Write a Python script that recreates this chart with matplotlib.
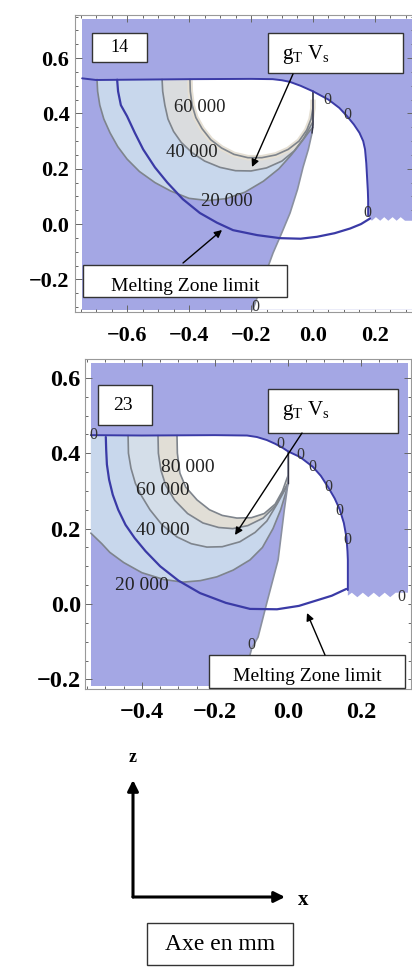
import matplotlib
matplotlib.use("Agg")
import matplotlib.pyplot as plt
from matplotlib.patches import Rectangle, FancyArrowPatch
from matplotlib.ticker import FixedLocator, FixedFormatter, MultipleLocator

plt.rcParams['font.family'] = ['Liberation Serif', 'DejaVu Serif']
plt.rcParams['mathtext.fontset'] = 'stix'

# ---------------- data: panel "14" ----------------
p14_xticks = [-0.6, -0.4, -0.2, 0.0, 0.2]
p14_xticklabels = ['\u22120.6', '\u22120.4', '\u22120.2', '0.0', '0.2']
p14_yticks = [-0.2, 0.0, 0.2, 0.4, 0.6]
p14_yticklabels = ['\u22120.2', '0.0', '0.2', '0.4', '0.6']
dom14_x = [-0.745, 0.32]
dom14_y = [-0.31, 0.741]

surf14_x = [-0.745, -0.70, -0.60, -0.40, -0.20, -0.13, -0.10, -0.074, -0.04, 0.0, 0.05, 0.085, 0.11,
            0.132, 0.15, 0.162, 0.168, 0.172, 0.174, 0.177, 0.178, 0.178]
surf14_y = [0.527, 0.521, 0.522, 0.524, 0.525, 0.524, 0.52, 0.514, 0.50, 0.48, 0.45, 0.42, 0.39,
            0.36, 0.33, 0.30, 0.27, 0.22, 0.18, 0.12, 0.087, 0.03]
zig14_x = [0.178, 0.19, 0.203, 0.217, 0.23, 0.243, 0.257, 0.27, 0.283, 0.297, 0.32]
zig14_y = [0.03, 0.012, 0.025, 0.012, 0.025, 0.012, 0.025, 0.012, 0.025, 0.012, 0.012]
melt14_x = [-0.632, -0.629, -0.62, -0.60, -0.575, -0.548, -0.51, -0.47, -0.42, -0.365, -0.31, -0.258,
            -0.18, -0.106, -0.04, 0.013, 0.07, 0.12, 0.155, 0.184]
melt14_y = [0.522, 0.48, 0.43, 0.39, 0.33, 0.27, 0.205, 0.15, 0.09, 0.04, 0.005, -0.022,
            -0.04, -0.051, -0.053, -0.046, -0.033, -0.016, 0.0, 0.02]
zero14_x = [-0.194, -0.16, -0.129, -0.10, -0.074, -0.05, -0.032, -0.015, -0.003, 0.0, 0.0]
zero14_y = [-0.31, -0.20, -0.105, -0.03, 0.04, 0.125, 0.206, 0.27, 0.33, 0.36, 0.48]
c14_20k_x = [-0.697, -0.695, -0.688, -0.675, -0.655, -0.63, -0.60, -0.56, -0.51, -0.46, -0.40, -0.34,
             -0.28, -0.22, -0.16, -0.11, -0.07, -0.035, -0.012, 0.0]
c14_20k_y = [0.523, 0.48, 0.43, 0.38, 0.33, 0.28, 0.235, 0.19, 0.15, 0.12, 0.093, 0.085,
             0.092, 0.115, 0.155, 0.20, 0.25, 0.30, 0.335, 0.35]
c14_40k_x = [-0.487, -0.485, -0.478, -0.468, -0.45, -0.425, -0.39, -0.35, -0.30, -0.25, -0.20, -0.15,
             -0.10, -0.06, -0.03, -0.01, 0.0]
c14_40k_y = [0.523, 0.48, 0.43, 0.38, 0.335, 0.295, 0.258, 0.228, 0.205, 0.193, 0.192, 0.203,
             0.228, 0.265, 0.31, 0.35, 0.37]
c14_60k_x = [-0.397, -0.396, -0.39, -0.378, -0.358, -0.33, -0.295, -0.255, -0.21, -0.165, -0.12, -0.08,
             -0.045, -0.02, -0.006, 0.0, 0.0]
c14_60k_y = [0.523, 0.48, 0.43, 0.385, 0.345, 0.305, 0.275, 0.252, 0.24, 0.24, 0.25, 0.27,
             0.30, 0.34, 0.38, 0.42, 0.45]
lab14_text = ['60 000', '40 000', '20 000']
lab14_x = [-0.365, -0.39, -0.277]
lab14_y = [0.423, 0.257, 0.08]
zlab14_x = [0.048, 0.11, 0.177, -0.187]
zlab14_y = [0.448, 0.394, 0.04, -0.300]

# ---------------- data: panel "23" ----------------
p23_xticks = [-0.4, -0.2, 0.0, 0.2]
p23_xticklabels = ['\u22120.4', '\u22120.2', '0.0', '0.2']
p23_yticks = [-0.2, 0.0, 0.2, 0.4, 0.6]
p23_yticklabels = ['\u22120.2', '0.0', '0.2', '0.4', '0.6']
dom23_x = [-0.54, 0.33]
dom23_y = [-0.218, 0.64]

surf23_x = [-0.54, -0.40, -0.20, -0.112, -0.085, -0.058, -0.035, -0.014, 0.0, 0.033, 0.068, 0.09, 0.11,
            0.128, 0.142, 0.153, 0.16, 0.163, 0.164, 0.164]
surf23_y = [0.448, 0.447, 0.448, 0.447, 0.443, 0.435, 0.425, 0.414, 0.405, 0.39, 0.364, 0.34, 0.31,
            0.28, 0.25, 0.215, 0.178, 0.14, 0.117, 0.037]
zig23_x = [0.164, 0.175, 0.19, 0.205, 0.22, 0.235, 0.25, 0.265, 0.28, 0.295, 0.33]
zig23_y = [0.022, 0.03, 0.018, 0.03, 0.018, 0.03, 0.018, 0.03, 0.018, 0.03, 0.03]
melt23_x = [-0.499, -0.498, -0.496, -0.49, -0.48, -0.465, -0.445, -0.42, -0.39, -0.35, -0.30, -0.241,
            -0.17, -0.104, -0.03, 0.03, 0.08, 0.12, 0.16]
melt23_y = [0.443, 0.41, 0.37, 0.33, 0.29, 0.25, 0.21, 0.175, 0.14, 0.10, 0.062, 0.029,
            0.003, -0.013, -0.014, -0.005, 0.01, 0.022, 0.04]
zero23_x = [-0.128, -0.099, -0.082, -0.058, -0.027, -0.01, 0.0, 0.0]
zero23_y = [-0.218, -0.117, -0.088, 0.003, 0.117, 0.25, 0.32, 0.405]
c23_20k_x = [-0.54, -0.51, -0.488, -0.45, -0.40, -0.34, -0.288, -0.24, -0.195, -0.15, -0.104, -0.07,
             -0.041, -0.02, -0.006, 0.0]
c23_20k_y = [0.188, 0.16, 0.137, 0.11, 0.083, 0.065, 0.058, 0.062, 0.072, 0.09, 0.117, 0.15,
             0.20, 0.25, 0.295, 0.32]
c23_40k_x = [-0.438, -0.437, -0.43, -0.418, -0.40, -0.378, -0.345, -0.304, -0.265, -0.222, -0.18,
             -0.132, -0.09, -0.058, -0.03, -0.01, 0.0]
c23_40k_y = [0.447, 0.40, 0.36, 0.32, 0.285, 0.25, 0.21, 0.178, 0.16, 0.151, 0.152,
             0.165, 0.19, 0.22, 0.265, 0.30, 0.32]
c23_60k_x = [-0.356, -0.355, -0.348, -0.335, -0.31, -0.275, -0.233, -0.19, -0.151, -0.11, -0.068,
             -0.035, -0.012, 0.0]
c23_60k_y = [0.447, 0.40, 0.355, 0.315, 0.275, 0.24, 0.215, 0.203, 0.20, 0.208, 0.228,
             0.26, 0.30, 0.32]
c23_80k_x = [-0.304, -0.303, -0.296, -0.28, -0.249, -0.215, -0.18, -0.14, -0.10, -0.065, -0.035,
             -0.015, -0.004, 0.0]
c23_80k_y = [0.447, 0.40, 0.347, 0.31, 0.276, 0.25, 0.235, 0.228, 0.229, 0.24, 0.265,
             0.30, 0.33, 0.34]
lab23_text = ['80 000', '60 000', '40 000', '20 000']
lab23_x = [-0.274, -0.342, -0.342, -0.40]
lab23_y = [0.363, 0.302, 0.196, 0.05]
zlab23_x = [-0.022, 0.033, 0.068, 0.11, 0.14, 0.162, 0.312, -0.534, -0.099]
zlab23_y = [0.424, 0.395, 0.363, 0.31, 0.247, 0.17, 0.019, 0.448, -0.109]

# ---------------- styles ----------------
PERI = '#A4A7E4'
BAND1 = '#C8D7EC'
BAND2_14 = '#DADCDE'
BAND2_23 = '#D4DEE9'
BAND3_23 = '#E1DED6'
GREY = '#7E848C'
MELT = '#3A3AA6'

W, H = 412, 968
fig = plt.figure(figsize=(W / 100, H / 100), dpi=100)


def fx(px):
    return px / W


def fy(py):
    return 1 - py / H


def region(cx, cy, sx, sy, x_end=0.0):
    px, py = list(cx), list(cy)
    sel = [(x, y) for x, y in zip(sx, sy) if cx[0] - 1e-9 <= x <= x_end + 1e-9]
    for x, y in reversed(sel):
        px.append(x)
        py.append(y)
    return px, py


def white_region(zx, zy, sx, sy, gx, gy, dx, dy):
    px, py = list(zx), list(zy)
    for x, y in zip(sx, sy):
        if x > 1e-9:
            px.append(x)
            py.append(y)
    px += list(gx) + [dx[1], dx[1]]
    py += list(gy) + [gy[-1], dy[0]]
    return px, py


def style_axes(ax, xt, xtl, yt, ytl, fs, xpad, ypad):
    ax.set_facecolor('white')
    ax.xaxis.set_major_locator(FixedLocator(xt))
    ax.xaxis.set_major_formatter(FixedFormatter(xtl))
    ax.yaxis.set_major_locator(FixedLocator(yt))
    ax.yaxis.set_major_formatter(FixedFormatter(ytl))
    ax.xaxis.set_minor_locator(MultipleLocator(0.05))
    ax.yaxis.set_minor_locator(MultipleLocator(0.05))
    ax.tick_params(which='both', direction='in', top=True, right=True, color='#666666', width=0.7)
    ax.tick_params(which='major', length=5)
    ax.tick_params(which='minor', length=2.5)
    ax.tick_params(axis='x', pad=xpad, labelsize=fs)
    ax.tick_params(axis='y', pad=ypad, labelsize=fs)
    for lbl in ax.get_xticklabels() + ax.get_yticklabels():
        lbl.set_fontweight('bold')
    for sp in ax.spines.values():
        sp.set_color('#999999')
        sp.set_linewidth(0.8)


LW = dict(solid_joinstyle='round', solid_capstyle='round')

# ---------------- panel 14 ----------------
ax1 = fig.add_axes([fx(75), fy(312), (414 - 75) / W, (312 - 15) / H])
ax1.set_xlim(-0.768, 0.326)
ax1.set_ylim(-0.318, 0.756)
ax1.fill_between(dom14_x, dom14_y[0], dom14_y[1], color=PERI, lw=0, zorder=1)
for (cx, cy), col in [((c14_20k_x, c14_20k_y), BAND1),
                      ((c14_40k_x, c14_40k_y), BAND2_14),
                      ((c14_60k_x, c14_60k_y), 'white')]:
    rx, ry = region(cx, cy, surf14_x, surf14_y)
    ax1.fill(rx, ry, color=col, lw=0, zorder=2)
wx, wy = white_region(zero14_x, zero14_y, surf14_x, surf14_y, zig14_x, zig14_y, dom14_x, dom14_y)
ax1.fill(wx, wy, color='white', lw=0, zorder=2)
ax1.plot(c14_60k_x, c14_60k_y, color='#E6E0D4', lw=4, zorder=3, solid_capstyle='butt')
for cx, cy in [(c14_20k_x, c14_20k_y), (c14_40k_x, c14_40k_y), (c14_60k_x, c14_60k_y)]:
    ax1.plot(cx, cy, color=GREY, lw=1.2, zorder=4, **LW)
ax1.plot(zero14_x, zero14_y, color='#8A90A0', lw=1.2, zorder=4, **LW)
ax1.plot(zero14_x[-3:], zero14_y[-3:], color='#333344', lw=1.0, zorder=4)
ax1.plot(surf14_x, surf14_y, color=MELT, lw=1.4, zorder=5, **LW)
ax1.plot(melt14_x, melt14_y, color=MELT, lw=1.6, zorder=5, **LW)
for t, x, y in zip(lab14_text, lab14_x, lab14_y):
    ax1.text(x, y, t, fontsize=13.5, ha='center', va='center', color='#222222', zorder=6)
for x, y in zip(zlab14_x, zlab14_y):
    ax1.text(x, y, '0', fontsize=11.5, ha='center', va='center', color='#333333', zorder=6)
style_axes(ax1, p14_xticks, p14_xticklabels, p14_yticks, p14_yticklabels, 16, 10, 4)

# ---------------- panel 23 ----------------
ax2 = fig.add_axes([fx(85), fy(689), (411 - 85) / W, (689 - 359) / H])
ax2.set_xlim(-0.556, 0.337)
ax2.set_ylim(-0.2255, 0.65)
ax2.fill_between(dom23_x, dom23_y[0], dom23_y[1], color=PERI, lw=0, zorder=1)
for (cx, cy), col in [((c23_20k_x, c23_20k_y), BAND1),
                      ((c23_40k_x, c23_40k_y), BAND2_23),
                      ((c23_60k_x, c23_60k_y), BAND3_23),
                      ((c23_80k_x, c23_80k_y), 'white')]:
    rx, ry = region(cx, cy, surf23_x, surf23_y)
    ax2.fill(rx, ry, color=col, lw=0, zorder=2)
wx, wy = white_region(zero23_x, zero23_y, surf23_x, surf23_y, zig23_x, zig23_y, dom23_x, dom23_y)
ax2.fill(wx, wy, color='white', lw=0, zorder=2)
for cx, cy in [(c23_20k_x, c23_20k_y), (c23_40k_x, c23_40k_y), (c23_60k_x, c23_60k_y), (c23_80k_x, c23_80k_y)]:
    ax2.plot(cx, cy, color=GREY, lw=1.2, zorder=4, **LW)
ax2.plot(zero23_x, zero23_y, color='#8A90A0', lw=1.2, zorder=4, **LW)
ax2.plot(zero23_x[-2:], zero23_y[-2:], color='#333344', lw=1.0, zorder=4)
ax2.plot(surf23_x, surf23_y, color=MELT, lw=1.4, zorder=5, **LW)
ax2.plot(melt23_x, melt23_y, color=MELT, lw=1.6, zorder=5, **LW)
for t, x, y in zip(lab23_text, lab23_x, lab23_y):
    ax2.text(x, y, t, fontsize=14, ha='center', va='center', color='#222222', zorder=6)
for x, y in zip(zlab23_x, zlab23_y):
    ax2.text(x, y, '0', fontsize=11.5, ha='center', va='center', color='#333333', zorder=6)
style_axes(ax2, p23_xticks, p23_xticklabels, p23_yticks, p23_yticklabels, 17.5, 9, 3)


# ---------------- annotation boxes and arrows ----------------
def box(x0, y0, x1, y1, lw=1.0):
    fig.add_artist(Rectangle((fx(x0), fy(y1)), (x1 - x0) / W, (y1 - y0) / H,
                             transform=fig.transFigure, facecolor='white',
                             edgecolor='#333333', lw=lw, zorder=5))


def arrow(x0, y0, x1, y1, lw=1.0, ms=11):
    fig.add_artist(FancyArrowPatch((fx(x0), fy(y0)), (fx(x1), fy(y1)),
                                   transform=fig.transFigure, arrowstyle='-|>',
                                   mutation_scale=ms, lw=lw, color='black',
                                   shrinkA=0, shrinkB=0, zorder=6))


GTVS = r'$\mathregular{g_T\ V_s}$'

box(92, 33, 147, 62)
fig.text(fx(119.5), fy(48), '14', fontsize=13, ha='center', va='center', zorder=7)
box(268, 33, 403, 73)
fig.text(fx(282), fy(55), GTVS, fontsize=15, ha='left', va='center', zorder=7)
arrow(293, 74, 252, 167)
box(83, 265, 287, 297)
fig.text(fx(185), fy(291), 'Melting Zone limit', fontsize=14, ha='center', va='baseline', zorder=7)
arrow(183, 263, 222, 230)

box(98, 385, 152, 425)
fig.text(fx(123), fy(405), '23', fontsize=14, ha='center', va='center', zorder=7)
box(268, 389, 398, 433)
fig.text(fx(282), fy(411), GTVS, fontsize=15, ha='left', va='center', zorder=7)
arrow(302, 433, 235, 535)
box(209, 655, 405, 688)
fig.text(fx(307), fy(681), 'Melting Zone limit', fontsize=14, ha='center', va='baseline', zorder=7)
arrow(325, 655, 307, 613)

# ---------------- axis legend (x, z) ----------------
arrow(133, 897, 133, 780, lw=2.2, ms=16)
arrow(133, 897, 285, 897, lw=2.2, ms=16)
fig.text(fx(133), fy(758), 'z', fontsize=13, fontweight='bold', ha='center', va='center')
fig.text(fx(303), fy(900), 'x', fontsize=15, fontweight='bold', ha='center', va='center')
box(147, 923, 293, 965)
fig.text(fx(220), fy(945), 'Axe en mm', fontsize=17, ha='center', va='center', zorder=7)

fig.savefig('out.png', dpi=100)
